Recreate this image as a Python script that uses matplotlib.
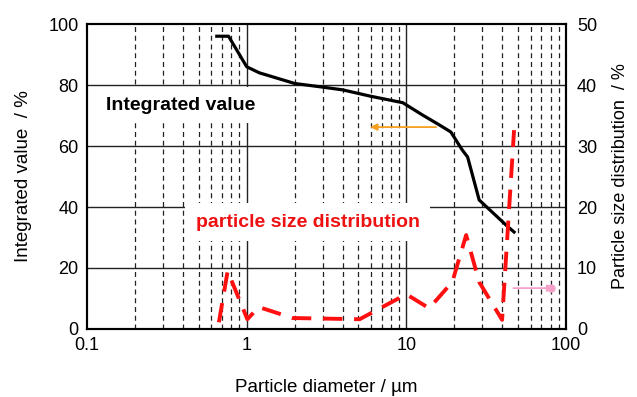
import numpy as np
import matplotlib
matplotlib.use('Agg')
import matplotlib.pyplot as plt
from matplotlib.ticker import FixedLocator, NullFormatter

plt.rcParams['font.family'] = ['Liberation Sans', 'DejaVu Sans']

# integrated value (left axis, %)
integ_x = [0.65, 0.77, 1.0, 1.2, 2.0, 3.0, 4.0, 6.0, 9.5, 12.6, 16, 19, 22.4, 24.2, 28.6, 42.7, 47.3]
integ_y = [96, 96, 86, 84, 80.5, 79.3, 78.4, 76.3, 74.2, 70.2, 67, 64.6, 58.7, 56.4, 42.3, 33.8, 31.8]

# particle size distribution (right axis, %)
dist_x = [0.67, 0.76, 1.01, 1.19, 1.94, 5.1, 10, 13.9, 19.4, 23.7, 28.6, 39.8, 47.3]
dist_y = [1.1, 9.5, 1.6, 3.6, 1.8, 1.6, 5.7, 3.4, 7.7, 15.4, 7.7, 1.5, 32.6]

left_ticks = [0, 20, 40, 60, 80, 100]
right_ticks = [0, 10, 20, 30, 40, 50]
x_ticks = [0.1, 1, 10, 100]
x_labels = ['0.1', '1', '10', '100']

fig = plt.figure(figsize=(6.37, 3.97), dpi=100)
ax = fig.add_axes([0.1366, 0.1713, 0.7519, 0.7682])
ax2 = ax.twinx()

ax.set_xscale('log')
ax.set_xlim(0.1, 100)
ax.set_ylim(0, 100)
ax2.set_ylim(0, 50)

ax.xaxis.set_major_locator(FixedLocator(x_ticks))
ax.set_xticklabels(x_labels)
minors = [m * d for d in [0.1, 1, 10] for m in range(2, 10)]
ax.xaxis.set_minor_locator(FixedLocator(minors))
ax.xaxis.set_minor_formatter(NullFormatter())
ax.set_yticks(left_ticks)
ax2.set_yticks(right_ticks)

# grid
for v in [1, 10]:
    ax.axvline(v, color='#222222', lw=1.0, zorder=1)
for v in minors:
    ax.axvline(v, color='#222222', lw=0.9, ls=(0, (4, 3)), zorder=1)
for v in [20, 40, 60, 80]:
    ax.axhline(v, color='#222222', lw=1.0, zorder=1)

ax.tick_params(which='both', length=0, labelsize=13, pad=6)
ax2.tick_params(which='both', length=0, labelsize=13, pad=8)
for a in (ax, ax2):
    for s in a.spines.values():
        s.set_linewidth(1.5)

ax.plot(integ_x, integ_y, color='black', lw=2.3, zorder=3)
ax2.plot(dist_x, dist_y, color='#ff1010', lw=2.8, ls=(0, (5, 3)), zorder=3)

# labels with white boxes hiding the grid
ax2.text(0.132, 36.7, 'Integrated value', fontsize=14, fontweight='bold', color='black',
         va='center', ha='left', zorder=5,
         bbox=dict(boxstyle='square,pad=0.5', fc='white', ec='none'))
ax2.text(0.48, 17.5, 'particle size distribution', fontsize=14, fontweight='bold',
         color='#ee1111', va='center', ha='left', zorder=5,
         bbox=dict(boxstyle='square,pad=0.55', fc='white', ec='none'))

# arrows
ax.annotate('', xy=(5.7, 66.2), xytext=(16, 66.2),
            arrowprops=dict(arrowstyle='-|>', color='#f5a020', lw=1.3, mutation_scale=10), zorder=4)
ax2.annotate('', xy=(88, 6.7), xytext=(45, 6.7),
             arrowprops=dict(arrowstyle='-|>', color='#f4a0c8', lw=1.3, mutation_scale=10), zorder=4)
ax2.plot([81], [6.7], 'o', color='#f4a0c8', ms=5, zorder=4)

ax.set_xlabel('Particle diameter / µm', fontsize=13.5, labelpad=18)
ax.set_ylabel('Integrated value  / %', fontsize=13.5, labelpad=12)
ax2.set_ylabel('Particle size distribution  / %', fontsize=13, labelpad=11)

fig.savefig('out.png', dpi=100)
